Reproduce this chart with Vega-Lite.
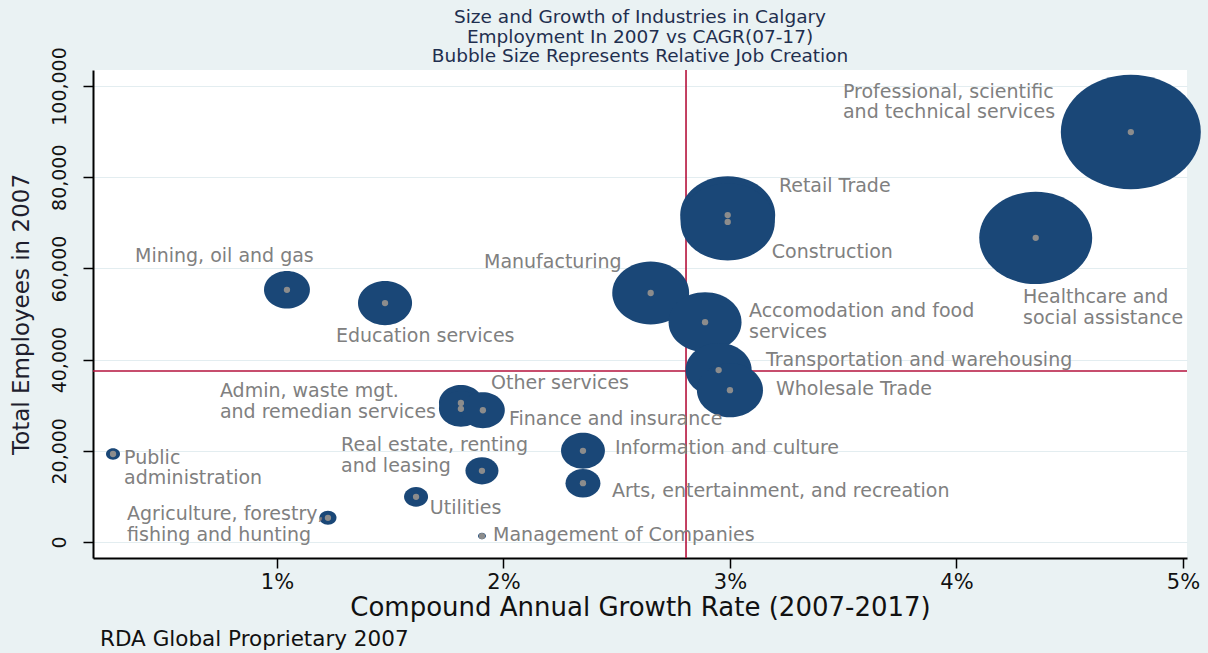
{
  "$schema": "https://vega.github.io/schema/vega-lite/v6.json",
  "width": 1094,
  "height": 488,
  "autosize": "none",
  "padding": {"left": 93, "top": 70, "right": 21, "bottom": 95},
  "background": "#eaf2f3",
  "config": {"view": {"stroke": null, "fill": "white"}, "font": "DejaVu Sans"},
  "title": {
    "text": ["Size and Growth of Industries in Calgary", "Employment In 2007 vs CAGR(07-17)", "Bubble Size Represents Relative Job Creation"],
    "fontSize": 18.5, "lineHeight": 19.5, "color": "#1f2f4f", "font": "DejaVu Sans", "fontWeight": "normal",
    "anchor": "middle", "frame": "group", "offset": -19
  },
  "datasets": {
    "industries": [
      {"name": "Professional, scientific and technical services", "x": 0.0477, "y": 89900, "jobs": 53000},
      {"name": "Healthcare and social assistance", "x": 0.0435, "y": 66700, "jobs": 34500},
      {"name": "Retail Trade", "x": 0.0299, "y": 71700, "jobs": 24400},
      {"name": "Construction", "x": 0.0299, "y": 70200, "jobs": 24000},
      {"name": "Manufacturing", "x": 0.0265, "y": 54600, "jobs": 16000},
      {"name": "Accomodation and food services", "x": 0.0289, "y": 48200, "jobs": 14400},
      {"name": "Transportation and warehousing", "x": 0.0295, "y": 37700, "jobs": 11800},
      {"name": "Wholesale Trade", "x": 0.0300, "y": 33300, "jobs": 11800},
      {"name": "Mining, oil and gas", "x": 0.01044, "y": 55300, "jobs": 5700},
      {"name": "Education services", "x": 0.01477, "y": 52400, "jobs": 7900},
      {"name": "Other services", "x": 0.01812, "y": 30500, "jobs": 5200},
      {"name": "Admin, waste mgt. and remedian services", "x": 0.01812, "y": 29200, "jobs": 5200},
      {"name": "Finance and insurance", "x": 0.01909, "y": 28900, "jobs": 5200},
      {"name": "Information and culture", "x": 0.02351, "y": 20000, "jobs": 5200},
      {"name": "Arts, entertainment, and recreation", "x": 0.02351, "y": 12900, "jobs": 3300},
      {"name": "Real estate, renting and leasing", "x": 0.01905, "y": 15600, "jobs": 2950},
      {"name": "Utilities", "x": 0.01614, "y": 9900, "jobs": 1560},
      {"name": "Agriculture, forestry, fishing and hunting", "x": 0.01225, "y": 5300, "jobs": 790},
      {"name": "Public administration", "x": 0.00276, "y": 19300, "jobs": 530},
      {"name": "Management of Companies", "x": 0.01905, "y": 1300, "jobs": 170}
    ],
    "labels": [
      {"t": "Professional, scientific", "x": 0.03499, "y": 98685},
      {"t": "and technical services", "x": 0.03499, "y": 94299},
      {"t": "Retail Trade", "x": 0.03216, "y": 78071},
      {"t": "Construction", "x": 0.03185, "y": 63597},
      {"t": "Healthcare and", "x": 0.04294, "y": 53729},
      {"t": "social assistance", "x": 0.04294, "y": 49123},
      {"t": "Mining, oil and gas", "x": 0.00373, "y": 62720},
      {"t": "Manufacturing", "x": 0.01914, "y": 61404},
      {"t": "Education services", "x": 0.0126, "y": 45176},
      {"t": "Accomodation and food", "x": 0.03084, "y": 50658},
      {"t": "services", "x": 0.03084, "y": 46053},
      {"t": "Transportation and warehousing", "x": 0.03159, "y": 39913},
      {"t": "Wholesale Trade", "x": 0.03203, "y": 33553},
      {"t": "Other services", "x": 0.01945, "y": 34869},
      {"t": "Admin, waste mgt.", "x": 0.00748, "y": 33114},
      {"t": "and remedian services", "x": 0.00748, "y": 28509},
      {"t": "Finance and insurance", "x": 0.02024, "y": 26974},
      {"t": "Real estate, renting", "x": 0.01283, "y": 21272},
      {"t": "and leasing", "x": 0.01283, "y": 16667},
      {"t": "Information and culture", "x": 0.02492, "y": 20614},
      {"t": "Public", "x": 0.00325, "y": 18421},
      {"t": "administration", "x": 0.00325, "y": 14035},
      {"t": "Arts, entertainment, and recreation", "x": 0.02479, "y": 11184},
      {"t": "Utilities", "x": 0.01675, "y": 7456},
      {"t": "Agriculture, forestry,", "x": 0.00338, "y": 6140},
      {"t": "fishing and hunting", "x": 0.00338, "y": 1535},
      {"t": "Management of Companies", "x": 0.01954, "y": 1535}
    ],
    "footer": [
      {"t": "RDA Global Proprietary 2007", "x": 0.002185, "y": -21490}
    ],
    "vline": [{"x": 0.02806}],
    "hline": [{"y": 37500}]
  },
  "layer": [
    {
      "data": {"name": "vline"},
      "mark": {"type": "rule", "color": "#b5123c", "strokeWidth": 1.6},
      "encoding": {
        "x": {"field": "x", "type": "quantitative", "scale": {"domain": [0.001876, 0.05018], "nice": false, "zero": false},
          "axis": {"title": "Compound Annual Growth Rate (2007-2017)", "values": [0.01, 0.02, 0.03, 0.04, 0.05], "format": ".0%", "grid": false, "domainColor": "#000", "domainWidth": 2, "tickColor": "#000", "tickWidth": 1.5, "tickSize": 10, "labelFont": "DejaVu Sans", "labelFontSize": 21, "labelColor": "#111", "labelPadding": 3, "labelOverlap": false, "labelFlush": false, "titleFont": "DejaVu Sans", "titleFontSize": 26, "titleFontWeight": "normal", "titleColor": "#111", "titlePadding": 2}}
      }
    },
    {
      "data": {"name": "hline"},
      "mark": {"type": "rule", "color": "#b5123c", "strokeWidth": 1.6},
      "encoding": {
        "y": {"field": "y", "type": "quantitative", "scale": {"domain": [-3509, 103509], "nice": false, "zero": false},
          "axis": {"title": "Total Employees in 2007", "values": [0, 20000, 40000, 60000, 80000, 100000], "format": ",.0f", "grid": true, "gridColor": "#e3edf0", "gridWidth": 1, "domainColor": "#000", "domainWidth": 2, "tickColor": "#000", "tickWidth": 1.5, "tickSize": 10, "labelAngle": -90, "labelAlign": "center", "labelBaseline": "bottom", "labelFont": "DejaVu Sans", "labelFontSize": 19, "labelColor": "#111", "labelPadding": 14, "labelOverlap": false, "labelFlush": false, "titleFont": "DejaVu Sans", "titleFontSize": 23, "titleFontWeight": "normal", "titleColor": "#1e1e2e", "titlePadding": 17}}
      }
    },
    {
      "data": {"name": "industries"},
      "mark": {"type": "point", "shape": "M-1.1,0C-1.1,-0.497,-0.6075,-0.9,0,-0.9C0.6075,-0.9,1.1,-0.497,1.1,0C1.1,0.497,0.6075,0.9,0,0.9C-0.6075,0.9,-1.1,0.497,-1.1,0Z", "filled": true, "color": "#1a4777", "opacity": 1, "strokeWidth": 0},
      "encoding": {
        "x": {"field": "x", "type": "quantitative", "title": "Compound Annual Growth Rate (2007-2017)"},
        "y": {"field": "y", "type": "quantitative", "title": "Total Employees in 2007"},
        "size": {"field": "jobs", "type": "quantitative", "scale": {"domain": [0, 53000], "range": [0, 16200]}, "legend": null}
      }
    },
    {
      "data": {"name": "industries"},
      "mark": {"type": "point", "shape": "circle", "filled": true, "color": "#8c8c8c", "opacity": 1, "size": 40},
      "encoding": {
        "x": {"field": "x", "type": "quantitative", "title": "Compound Annual Growth Rate (2007-2017)"},
        "y": {"field": "y", "type": "quantitative", "title": "Total Employees in 2007"}
      }
    },
    {
      "data": {"name": "labels"},
      "mark": {"type": "text", "align": "left", "baseline": "middle", "font": "DejaVu Sans", "fontSize": 19, "color": "#808080"},
      "encoding": {
        "x": {"field": "x", "type": "quantitative", "title": "Compound Annual Growth Rate (2007-2017)"},
        "y": {"field": "y", "type": "quantitative", "title": "Total Employees in 2007"},
        "text": {"field": "t", "type": "nominal"}
      }
    },
    {
      "data": {"name": "footer"},
      "mark": {"type": "text", "align": "left", "baseline": "middle", "font": "DejaVu Sans", "fontSize": 21.5, "color": "#111"},
      "encoding": {
        "x": {"field": "x", "type": "quantitative", "title": "Compound Annual Growth Rate (2007-2017)"},
        "y": {"field": "y", "type": "quantitative", "title": "Total Employees in 2007"},
        "text": {"field": "t", "type": "nominal"}
      }
    }
  ]
}
